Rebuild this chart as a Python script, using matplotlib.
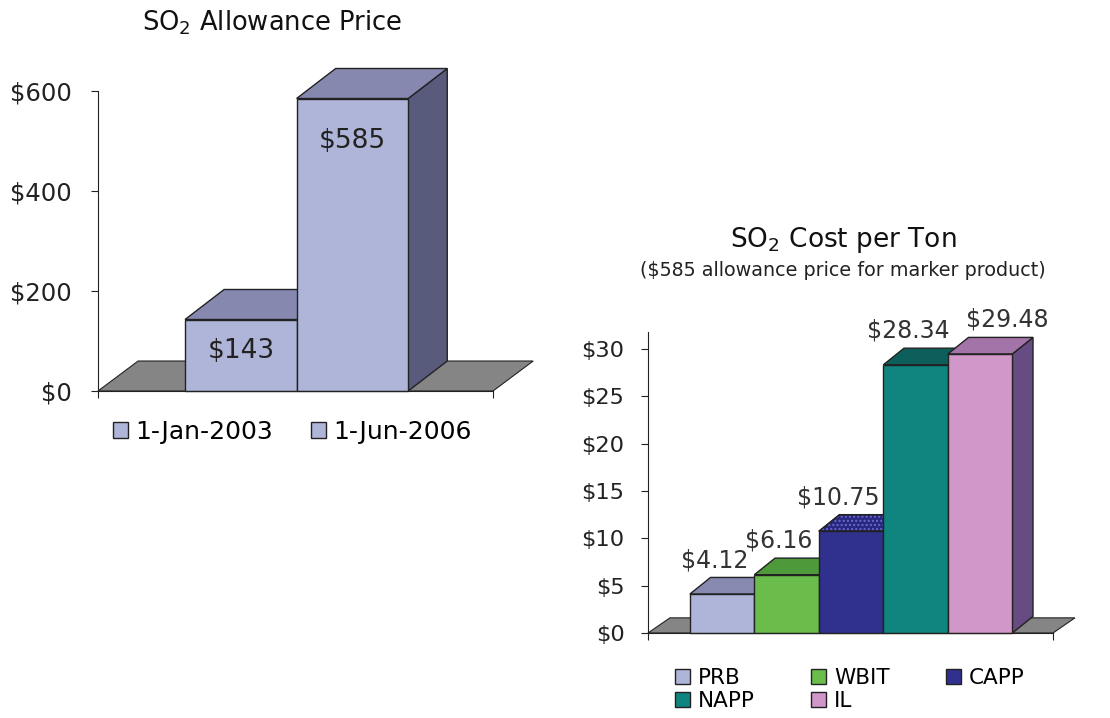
import numpy as np
import matplotlib
matplotlib.use('Agg')
import matplotlib.pyplot as plt
from matplotlib.patches import Polygon, Patch

# Daten linkes Diagramm
dates = ['1-Jan-2003', '1-Jun-2006']
prices = [143, 585]

# Daten rechtes Diagramm
coals = ['PRB', 'WBIT', 'CAPP', 'NAPP', 'IL']
cost_per_ton = [4.12, 6.16, 10.75, 28.34, 29.48]

# Farben (Vorderseite, Oberseite, Seite)
left_front, left_top, left_side = '#AFB5D8', '#8688B0', '#585B7B'
coal_front = ['#AFB5D8', '#6ABD4B', '#30308F', '#10857F', '#D097C8']
coal_top = ['#8789B1', '#4E9A3A', '#282880', '#0D5F5B', '#A374A8']
coal_side = ['#6C6E94', '#3F7E2F', '#20206A', '#0A4C49', '#664C82']
coal_dots = [None, None, '#6A6AC8', None, None]   # Punktmuster auf der Oberseite
floor_col = '#858585'
edge = '#222222'


def draw_floor(ax, ddx, ddy):
    x0, x1 = ax.get_xlim()
    ax.add_patch(Polygon([(x0, 0), (x1, 0), (x1 + ddx, ddy), (x0 + ddx, ddy)],
                         closed=True, fc=floor_col, ec=edge, lw=0.8,
                         clip_on=False, zorder=0.5))


def draw_bars(ax, xs, vals, width, ddx, ddy, fronts, tops, sides, dots=None):
    if dots is None:
        dots = [None] * len(vals)
    for x, v, f, t, s, d in zip(xs, vals, fronts, tops, sides, dots):
        xl, xr = x - width / 2, x + width / 2
        ax.add_patch(Polygon([(xr, 0), (xr + ddx, ddy), (xr + ddx, v + ddy), (xr, v)],
                             closed=True, fc=s, ec=edge, lw=1, clip_on=False))
        top = [(xl, v), (xr, v), (xr + ddx, v + ddy), (xl + ddx, v + ddy)]
        ax.add_patch(Polygon(top, closed=True, fc=t, ec=edge, lw=1, clip_on=False))
        if d is not None:
            ax.add_patch(Polygon(top, closed=True, fill=False, ec=d, lw=0,
                                 hatch='....', clip_on=False))
            ax.add_patch(Polygon(top, closed=True, fill=False, ec=edge, lw=1,
                                 clip_on=False))
        ax.bar(x, v, width, color=f, edgecolor=edge, lw=1, clip_on=False)


def style_axis(ax, fs, pad):
    for sp in ['top', 'right']:
        ax.spines[sp].set_visible(False)
    ax.spines['left'].set_color(edge)
    ax.spines['bottom'].set_color(edge)
    ax.spines['left'].set_zorder(3)
    ax.spines['bottom'].set_zorder(3)
    ax.tick_params(axis='y', direction='out', length=5, labelsize=fs,
                   colors=edge, labelcolor='#222222', pad=pad)
    x0, x1 = ax.get_xlim()
    ax.set_xticks([x0, x1])
    ax.set_xticklabels(['', ''])
    ax.tick_params(axis='x', direction='out', length=5, colors=edge)
    ax.patch.set_alpha(0)


fig = plt.figure(figsize=(11.1, 7.18), dpi=100)
W, H = 1110, 718

# ---------- linkes Diagramm ----------
axl = fig.add_axes([98 / W, 1 - 391 / H, 395 / W, 300 / H])
xl = np.arange(len(prices))
axl.set_xlim(-1.28, 2.26)
axl.set_ylim(0, 600)
draw_floor(axl, 0.36, 60)
draw_bars(axl, xl, prices, 1.0, 0.35, 60,
          [left_front] * 2, [left_top] * 2, [left_side] * 2)
axl.set_yticks([0, 200, 400, 600])
axl.set_yticklabels(['$%d' % v for v in [0, 200, 400, 600]])
style_axis(axl, 17.5, 14)
left_label_dy = [-31, -43]
for x, v, d in zip(xl, prices, left_label_dy):
    axl.annotate('$%d' % v, (x, v), xytext=(0, d), textcoords='offset pixels',
                 ha='center', va='center', fontsize=19, color='#222222', zorder=5)
fig.text(272 / W, 1 - 23 / H, 'SO$_2$ Allowance Price', ha='center', va='center',
         fontsize=18.5, color='#111111')
hl = [Patch(fc=left_front, ec=edge, lw=1) for _ in dates]
fig.legend(hl, dates, loc='center left', bbox_to_anchor=(113 / W, 1 - 432 / H),
           ncol=2, frameon=False, fontsize=18, handlelength=0.6, handleheight=0.6,
           handletextpad=0.3, columnspacing=1.5, borderpad=0, borderaxespad=0)

# ---------- rechtes Diagramm ----------
axr = fig.add_axes([648 / W, 1 - 633 / H, 405 / W, 301 / H])
xr = np.arange(len(cost_per_ton))
axr.set_xlim(-1.15, 5.13)
axr.set_ylim(0, 31.8)
draw_floor(axr, 0.34, 1.6)
draw_bars(axr, xr, cost_per_ton, 1.0, 0.32, 1.75, coal_front, coal_top, coal_side,
          coal_dots)
axr.set_yticks(np.arange(0, 31, 5))
axr.set_yticklabels(['$%d' % t for t in np.arange(0, 31, 5)])
style_axis(axr, 16.2, 12)
label_dx = [-7, -8, -13, -7, 27]
for x, v, d in zip(xr, cost_per_ton, label_dx):
    axr.annotate('$%.2f' % v, (x, v), xytext=(d, 34), textcoords='offset pixels',
                 ha='center', va='center', fontsize=17, color='#333333', zorder=5)
fig.text(843 / W, 1 - 240 / H, 'SO$_2$ Cost per Ton', ha='center', va='center',
         fontsize=19, color='#111111')
fig.text(843 / W, 1 - 270 / H, '($585 allowance price for marker product)',
         ha='center', va='center', fontsize=13.8, color='#222222')
hr = [Patch(fc=c, ec=edge, lw=1) for c in coal_front]
order = [0, 3, 1, 4, 2]
fig.legend([hr[k] for k in order], [coals[k] for k in order], loc='center left',
           bbox_to_anchor=(675 / W, 1 - 689.5 / H), ncol=3, frameon=False,
           fontsize=15.5, handlelength=0.7, handleheight=0.7, handletextpad=0.37,
           columnspacing=2.6, labelspacing=0.15, borderpad=0, borderaxespad=0)

fig.savefig('out.png', dpi=100)
